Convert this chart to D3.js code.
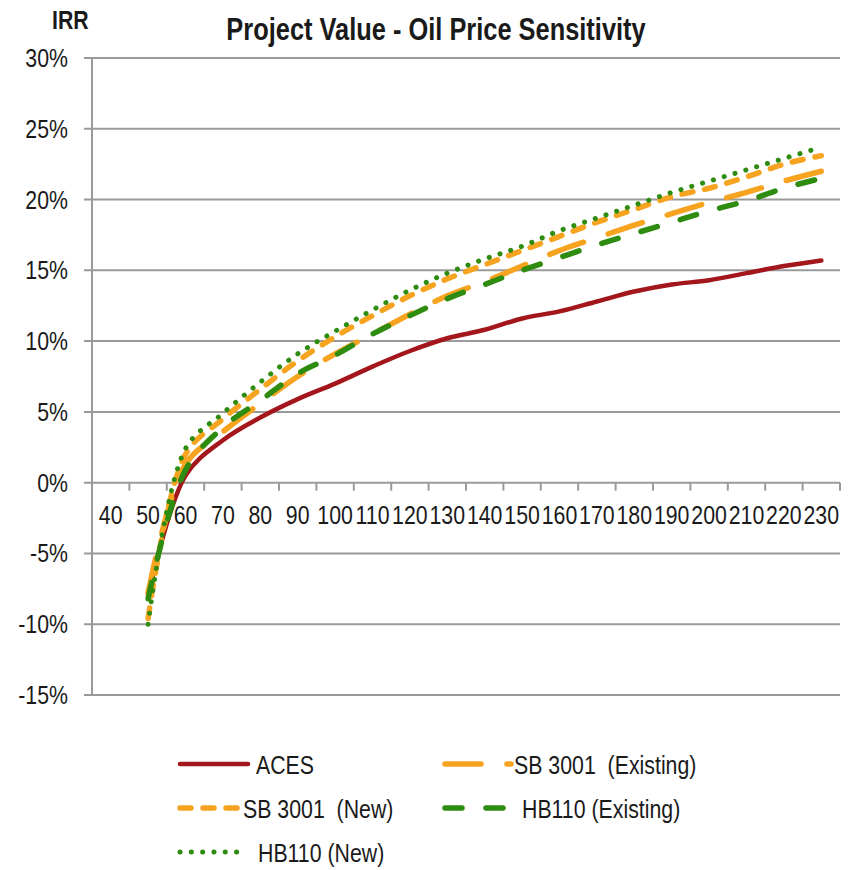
<!DOCTYPE html>
<html>
<head>
<meta charset="utf-8">
<script src="https://cdn.jsdelivr.net/npm/d3@7"></script>
<style>
  body { margin: 0; background: #fff; }
  text { font-family: "Liberation Sans", Arial, sans-serif; fill: #1a1a1a; white-space: pre; }
</style>
</head>
<body>
<div id="chart"></div>
<script>
// oil price categories ($/bbl) and IRR (%) per scenario
const prices = ['40', '50', '60', '70', '80', '90', '100', '110', '120', '130', '140', '150', '160', '170', '180', '190', '200', '210', '220', '230'];
const aces = [null, -8.0, 0.5, 3.0, 4.6, 5.9, 7.0, 8.2, 9.3, 10.2, 10.8, 11.6, 12.1, 12.8, 13.5, 14.0, 14.3, 14.8, 15.3, 15.7];
const sbExisting = [null, -7.8, 1.3, 3.6, 5.6, 7.5, 9.1, 10.5, 11.9, 13.2, 14.2, 15.3, 16.4, 17.3, 18.2, 19.0, 19.8, 20.5, 21.3, 22.0];
const sbNew = [null, -9.6, 2.0, 4.5, 6.6, 8.6, 10.3, 11.8, 13.2, 14.4, 15.4, 16.4, 17.4, 18.4, 19.3, 20.2, 20.8, 21.6, 22.5, 23.1];
const hbExisting = [null, -8.2, 0.9, 3.9, 5.8, 7.7, 9.0, 10.5, 11.8, 13.0, 14.0, 15.0, 15.9, 16.8, 17.6, 18.4, 19.2, 19.9, 20.8, 21.5];
const hbNew = [null, -10.0, 2.4, 4.9, 7.1, 9.1, 10.7, 12.2, 13.6, 14.8, 15.8, 16.7, 17.8, 18.7, 19.6, 20.5, 21.3, 22.1, 22.9, 23.7];
const yTicks = [-15, -10, -5, 0, 5, 10, 15, 20, 25, 30];

const series = [
  { name: 'ACES', values: aces, color: '#a3161b', width: 4.5, dash: null },
  { name: 'SB 3001  (Existing)', values: sbExisting, color: '#f6a31f', width: 5.5, dash: '36,26' },
  { name: 'SB 3001  (New)', values: sbNew, color: '#f6a31f', width: 5.5, dash: '11,12' },
  { name: 'HB110 (Existing)', values: hbExisting, color: '#2e8c10', width: 5.5, dash: '17,24' },
  { name: 'HB110 (New)', values: hbNew, color: '#2e8c10', width: 5, dash: '0.1,11.2' },
];

const W = 850;
const H = 870;
const margin = { top: 58, right: 10, bottom: 175, left: 92 };
const NARROW = 0.82; // no narrow font installed, so squeeze the regular one

const svg = d3.select('#chart').append('svg')
  .attr('width', W)
  .attr('height', H);

// condensed text helper
const narrowText = (g, tx, ty, str, size, anchor = 'start', weight = 'normal') => g.append('text')
  .attr('transform', `translate(${tx}, ${ty}) scale(${NARROW}, 1)`)
  .attr('text-anchor', anchor)
  .attr('font-size', size)
  .attr('font-weight', weight)
  .attr('xml:space', 'preserve')
  .text(str);

const x = d3.scaleBand().domain(prices).range([margin.left, W - margin.right]).padding(0);
const y = d3.scaleLinear().domain([-15, 30]).range([H - margin.bottom, margin.top]);
const cx = (c) => x(c) + x.bandwidth() / 2;

// horizontal gridlines with outside tick marks
svg.append('g')
  .selectAll('line')
  .data(yTicks)
  .join('line')
  .attr('x1', margin.left - 8)
  .attr('x2', W - margin.right)
  .attr('y1', (d) => y(d))
  .attr('y2', (d) => y(d))
  .attr('stroke', '#9a9a9a')
  .attr('stroke-width', 2);

const yLabels = svg.append('g');
yTicks.forEach((d) => narrowText(yLabels, 68, y(d) + 9, `${d}%`, 26, 'end'));

// vertical axis line
svg.append('line')
  .attr('x1', margin.left).attr('x2', margin.left)
  .attr('y1', y(30)).attr('y2', y(-15))
  .attr('stroke', '#9a9a9a')
  .attr('stroke-width', 2);

// category axis crossing at 0%
const xAxis = svg.append('g');

xAxis.selectAll('line')
  .data(prices.concat(['end']))
  .join('line')
  .attr('x1', (d, i) => margin.left + i * x.bandwidth())
  .attr('x2', (d, i) => margin.left + i * x.bandwidth())
  .attr('y1', y(0))
  .attr('y2', y(0) + 8)
  .attr('stroke', '#9a9a9a')
  .attr('stroke-width', 2);

prices.forEach((d) => narrowText(xAxis, cx(d), y(0) + 41, d, 26, 'middle'));

// the lines
const line = d3.line()
  .defined((d) => d.v !== null)
  .x((d) => cx(d.c))
  .y((d) => y(d.v))
  .curve(d3.curveCatmullRom.alpha(0.5));

series.forEach((s) => {
  svg.append('path')
    .datum(prices.map((c, i) => ({ c, v: s.values[i] })))
    .attr('fill', 'none')
    .attr('stroke', s.color)
    .attr('stroke-width', s.width)
    .attr('stroke-linecap', 'round')
    .attr('stroke-dasharray', s.dash)
    .attr('d', line);
});

// titles
narrowText(svg, 436, 40, 'Project Value - Oil Price Sensitivity', 31, 'middle', 'bold');
narrowText(svg, 52, 29, 'IRR', 26, 'start', 'bold');

// legend
const legendPos = [
  { x: 180, y: 764, len: 68, tx: 256 },
  { x: 445, y: 764, len: 66, tx: 514 },
  { x: 180, y: 808, len: 60, tx: 243 },
  { x: 445, y: 808, len: 63, tx: 522 },
  { x: 180, y: 852, len: 63, tx: 258 },
];

const legend = svg.append('g');
series.forEach((s, i) => {
  const p = legendPos[i];
  legend.append('line')
    .attr('x1', p.x).attr('x2', p.x + p.len)
    .attr('y1', p.y).attr('y2', p.y)
    .attr('stroke', s.color)
    .attr('stroke-width', s.width)
    .attr('stroke-linecap', 'round')
    .attr('stroke-dasharray', s.dash);
  narrowText(legend, p.tx, p.y + 10, s.name, 26);
});
</script>
</body>
</html>
